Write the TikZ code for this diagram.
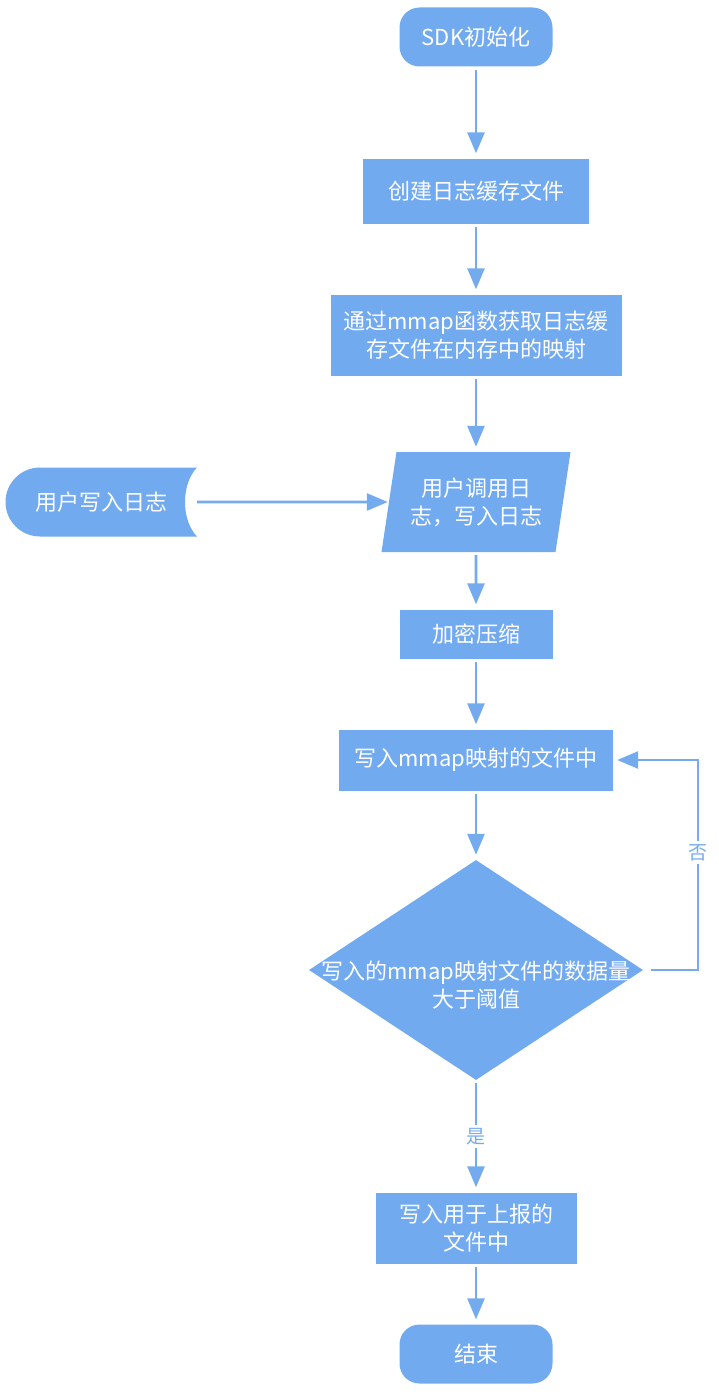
\documentclass[tikz,border=0pt]{standalone}
\usepackage{fontspec}
\newfontfamily\cjk{Noto Sans CJK SC}
\usetikzlibrary{arrows.meta,shapes.geometric}
\definecolor{flowBlue}{HTML}{72AAF0}
\definecolor{lineBlue}{HTML}{74ABEF}

\begin{document}
\begin{tikzpicture}[x=1pt,y=-1pt,font=\cjk\fontsize{22}{28}\selectfont,
  box/.style={fill=flowBlue,text=white,align=center,inner sep=0pt},
  terminal/.style={box,rounded corners=20pt,minimum width=153pt,minimum height=59pt},
  proc/.style={box,minimum width=#1},
  flow/.style={draw=lineBlue,line width=2.7pt,-{Triangle[length=21pt,width=17pt]},
               shorten <=3pt,shorten >=5pt},
  lbl/.style={fill=white,text=lineBlue,font=\cjk\fontsize{19}{22}\selectfont,inner sep=3pt}]
  \useasboundingbox (0,0) rectangle (718,1394);

  \node[terminal] (start) at (476,37) {SDK初始化};
  \node[proc=226pt,minimum height=65pt] (create) at (476,191) {创建日志缓存文件};
  \node[proc=291pt,minimum height=81pt] (map) at (476,335) {通过mmap函数获取日志缓\\存文件在内存中的映射};
  \node[box,trapezium,trapezium left angle=73,trapezium right angle=107,
        trapezium stretches body,minimum width=189pt,minimum height=100pt]
        (call) at (476,502) {用户调用日\\志，写入日志};

  % stored data shape on the left
  \fill[flowBlue] (197,467.5) -- (40,467.5) arc[start angle=270,end angle=90,radius=34.5]
    -- (197,536.5) .. controls (181,520) and (181,484) .. (197,467.5);
  \node[minimum width=192pt,minimum height=69pt,text=white] (user) at (101,502) {用户写入日志};

  \node[proc=153pt,minimum height=49pt] (enc) at (476,634) {加密压缩};
  \node[proc=274pt,minimum height=61pt] (write) at (476,760) {写入mmap映射的文件中};
  \node[box,diamond,minimum width=334pt,minimum height=220pt] (dec) at (476,970) {};
  \node[text=white,align=center] (dectext) at (476,985) {写入的mmap映射文件的数据量\\大于阈值};
  \node[proc=201pt,minimum height=71pt] (upload) at (476,1228) {写入用于上报的\\文件中};
  \node[terminal] (stop) at (476,1354) {结束};
  \coordinate (loop) at (698,970);

  \draw[flow] (start) -- (create);
  \draw[flow] (create) -- (map);
  \draw[flow] (map) -- (call);
  \draw[flow,shorten <=0pt,shorten >=1pt] (user) -- (call);
  \draw[flow] (call) -- (enc);
  \draw[flow] (enc) -- (write);
  \draw[flow] (write) -- (dec);
  \draw[flow] (dec) -- node[lbl] {是} (upload);
  \draw[flow,shorten <=8pt,shorten >=4pt] (dec.east) -- (loop) |- node[pos=.28,lbl] {否} (write.east);
  \draw[flow] (upload) -- (stop);
\end{tikzpicture}
\end{document}
